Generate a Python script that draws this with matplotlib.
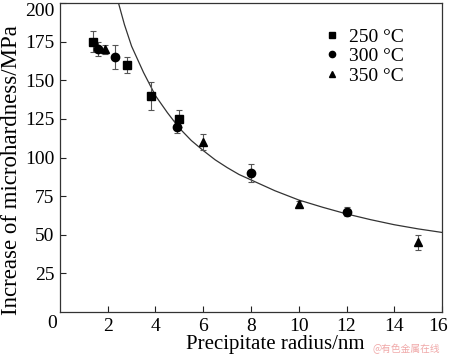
import matplotlib.pyplot as plt
from matplotlib.transforms import ScaledTranslation

plt.rcParams["font.family"] = ["Liberation Serif", "DejaVu Serif"]

# 250 C (squares)
r_250 = [1.4, 2.8, 3.8, 5.0]
h_250 = [175, 160, 140, 125]
e_250 = [7, 5, 9, 5.5]

# 300 C (circles)
r_300 = [1.6, 2.3, 4.9, 8.0, 12.0]
h_300 = [170, 165, 120, 90, 65]
e_300 = [4.5, 8, 4, 6, 3]

# 350 C (triangles)
r_350 = [1.9, 6.0, 10.0, 15.0]
h_350 = [170, 110, 70, 45]
e_350 = [2.7, 5, 2, 5]

# model curve
curve_r = [2.45, 2.7, 3, 3.5, 4, 4.5, 5, 5.5, 6, 6.5, 7, 7.5, 8, 9, 10,
           11, 12, 13, 14, 15, 16]
curve_h = [200, 186, 172, 155, 140, 129, 119, 111, 104.5, 98.5, 93.5, 89,
           85.5, 78.5, 72.5, 67.8, 63.5, 59.8, 56.5, 53.8, 51.5]

fig = plt.figure(figsize=(4.5, 3.58), dpi=100)
ax = fig.add_axes([0.1333, 0.1285, 0.849, 0.863])

ax.plot(curve_r, curve_h, color="#333333", lw=0.9, zorder=1)

err_kw = dict(ls="none", ecolor="#555555", elinewidth=0.8, capsize=2.5,
              capthick=0.8, color="black", zorder=3)
ax.errorbar(r_250, h_250, yerr=e_250, marker="s", ms=5.5, **err_kw)
ax.errorbar(r_300, h_300, yerr=e_300, marker="o", ms=6, **err_kw)
ax.errorbar(r_350, h_350, yerr=e_350, marker="^", ms=6, **err_kw)

# legend
h1, = ax.plot([], [], "s", color="black", ms=4)
h2, = ax.plot([], [], "o", color="black", ms=4.5)
h3, = ax.plot([], [], "^", color="black", ms=4.5)
ax.legend([h1, h2, h3], ["250 °C", "300 °C", "350 °C"], loc="upper left",
          bbox_to_anchor=(0.655, 0.963), frameon=False, fontsize=14,
          handlelength=0.8, handletextpad=0.5, labelspacing=0.1,
          borderpad=0.2)

ax.set_xlim(0, 16)
ax.set_ylim(0, 200)
ax.set_xticks([2, 4, 6, 8, 10, 12, 14, 16])
ax.set_yticks([25, 50, 75, 100, 125, 150, 175, 200])
ax.tick_params(direction="in", length=4, width=0.8, labelsize=14, pad=4,
               colors="#222222", labelcolor="black")
for s in ax.spines.values():
    s.set_color("#333333")
    s.set_linewidth(0.9)
# edge labels pulled inside, as in the original
ax.get_yticklabels()[-1].set_va("top")
last = ax.get_xticklabels()[-1]
last.set_transform(last.get_transform()
                   + ScaledTranslation(-3 / 72, 0, fig.dpi_scale_trans))

ax.text(-0.008, -0.01, "0", transform=ax.transAxes, ha="right", va="top",
        fontsize=14)

ax.set_xlabel("Precipitate radius/nm", fontsize=15)
ax.set_ylabel("Increase of microhardness/MPa", fontsize=16.5)
ax.xaxis.set_label_coords(0.563, -0.075)
ax.yaxis.set_label_coords(-0.10, 0.46)

fig.text(0.978, 0.012, "@有色金属在线", color="#f0a8a8", fontsize=7,
         ha="right", va="bottom", family=["Noto Sans CJK SC", "DejaVu Sans"])

fig.savefig("out.png", dpi=100)
